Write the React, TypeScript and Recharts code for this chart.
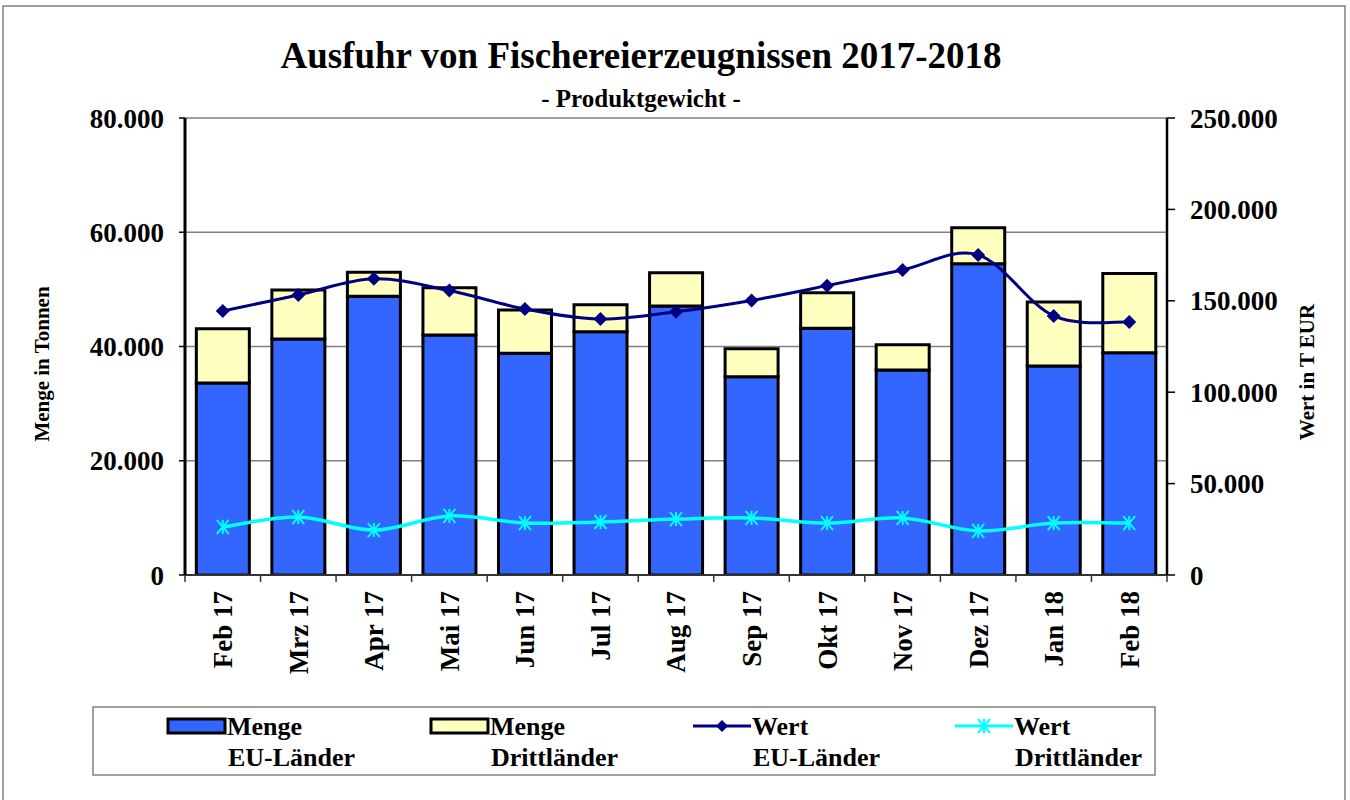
import { ComposedChart, Bar, Line, XAxis, YAxis, CartesianGrid } from "recharts";

const months = ["Feb 17", "Mrz 17", "Apr 17", "Mai 17", "Jun 17", "Jul 17", "Aug 17", "Sep 17", "Okt 17", "Nov 17", "Dez 17", "Jan 18", "Feb 18"];
const mengeEU = [33600, 41300, 48800, 42000, 38800, 42600, 47100, 34700, 43200, 35900, 54500, 36600, 38900];
const mengeDritt = [9500, 8600, 4200, 8300, 7600, 4700, 5800, 4900, 6200, 4400, 6300, 11200, 13900];
const wertEU = [144400, 153200, 162000, 155600, 145500, 140000, 144000, 150200, 158300, 166900, 175100, 141700, 138400];
const wertDritt = [26300, 31700, 24600, 32300, 28400, 29000, 30600, 31200, 28400, 31200, 24100, 28400, 28400];
const leftTicks = [0, 20000, 40000, 60000, 80000];
const rightTicks = [0, 50000, 100000, 150000, 200000, 250000];

const data = months.map((m, i) => ({
  month: m,
  mengeEU: mengeEU[i],
  mengeDritt: mengeDritt[i],
  wertEU: wertEU[i],
  wertDritt: wertDritt[i],
}));

const FONT = "'Liberation Serif', 'Times New Roman', serif";
const BLUE = "#3366FF";
const YELLOW = "#FFFFC0";
const NAVY = "#000080";
const CYAN = "#00FFFF";

const PLOT_LEFT = 185;
const PLOT_RIGHT = 1167;
const BAND = (PLOT_RIGHT - PLOT_LEFT) / months.length;

const fmt = (v: number) => String(v).replace(/\B(?=(\d{3})+(?!\d))/g, ".");

// Excel-like smoothing (Catmull-Rom through the points)
const smoothCurve = (context: any) => {
  let pts: number[][] = [];
  return {
    areaStart() {},
    areaEnd() {},
    lineStart() {
      pts = [];
    },
    lineEnd() {
      const n = pts.length;
      if (!n) return;
      context.moveTo(pts[0][0], pts[0][1]);
      for (let i = 0; i < n - 1; i++) {
        const p0 = pts[Math.max(i - 1, 0)];
        const p1 = pts[i];
        const p2 = pts[i + 1];
        const p3 = pts[Math.min(i + 2, n - 1)];
        context.bezierCurveTo(
          p1[0] + (p2[0] - p0[0]) / 6,
          p1[1] + (p2[1] - p0[1]) / 6,
          p2[0] - (p3[0] - p1[0]) / 6,
          p2[1] - (p3[1] - p1[1]) / 6,
          p2[0],
          p2[1]
        );
      }
    },
    point(x: number, y: number) {
      pts.push([+x, +y]);
    },
  };
};

const Diamond = ({ cx, cy, s = 7 }: any) => (
  <path d={`M${cx},${cy - s}L${cx + s},${cy}L${cx},${cy + s}L${cx - s},${cy}Z`} fill={NAVY} />
);

const Star = ({ cx, cy }: any) => (
  <g stroke={CYAN} strokeWidth={2}>
    <line x1={cx - 6} y1={cy - 7} x2={cx + 6} y2={cy + 7} />
    <line x1={cx - 6} y1={cy + 7} x2={cx + 6} y2={cy - 7} />
    <line x1={cx} y1={cy - 7} x2={cx} y2={cy + 7} />
  </g>
);

const MonthTick = (props: any) => {
  const { x, y, payload, index } = props;
  const half = BAND / 2;
  return (
    <g>
      <line x1={x - half} x2={x - half} y1={y} y2={y + 7} stroke="#333" strokeWidth={1.5} />
      {index === months.length - 1 && (
        <line x1={x + half} x2={x + half} y1={y} y2={y + 7} stroke="#333" strokeWidth={1.5} />
      )}
      <text
        transform={`translate(${x},${y + 16}) rotate(-90)`}
        textAnchor="end"
        dy="0.35em"
        fontFamily={FONT}
        fontWeight="bold"
        fontSize={27}
        fill="#000"
      >
        {payload.value}
      </text>
    </g>
  );
};

const tickStyle = { fontFamily: FONT, fontWeight: "bold", fontSize: 27, fill: "#000" };

const legendText = { fontFamily: FONT, fontWeight: "bold", fontSize: 26, fill: "#000" } as const;

const LegendItem = ({ x, kind, line1, line2 }: any) => (
  <g>
    {kind === "blue" && <rect x={x} y={719} width={57} height={14} fill={BLUE} stroke="#000" strokeWidth={3} />}
    {kind === "yellow" && <rect x={x} y={719} width={57} height={14} fill={YELLOW} stroke="#000" strokeWidth={3} />}
    {kind === "navy" && (
      <g>
        <line x1={x} x2={x + 58} y1={726} y2={726} stroke={NAVY} strokeWidth={3} />
        <Diamond cx={x + 29} cy={726} s={6} />
      </g>
    )}
    {kind === "cyan" && (
      <g>
        <line x1={x} x2={x + 58} y1={726} y2={726} stroke={CYAN} strokeWidth={3} />
        <Star cx={x + 29} cy={726} />
      </g>
    )}
    <text x={x + 59} y={735} {...legendText}>{line1}</text>
    <text x={x + 60} y={766} {...legendText}>{line2}</text>
  </g>
);

export default function App() {
  return (
    <div style={{ position: "fixed", left: 0, top: 0, width: 1350, height: 800, background: "#fff" }}>
      <ComposedChart
        width={1350}
        height={800}
        data={data}
        margin={{ top: 118, right: 0, bottom: 0, left: 0 }}
        barCategoryGap="15%"
      >
        <CartesianGrid yAxisId="left" vertical={false} stroke="#808080" strokeWidth={1.5} />
        <XAxis
          dataKey="month"
          height={225}
          interval={0}
          tickLine={false}
          tickSize={0}
          tickMargin={0}
          axisLine={{ stroke: "#333", strokeWidth: 2 }}
          tick={<MonthTick />}
        />
        <YAxis
          yAxisId="left"
          width={185}
          domain={[0, 80000]}
          ticks={leftTicks}
          tickFormatter={fmt}
          tickSize={6}
          tickMargin={15}
          tickLine={{ stroke: "#000", strokeWidth: 1.5 }}
          axisLine={{ stroke: "#000", strokeWidth: 3 }}
          tick={tickStyle}
          allowDataOverflow
        />
        <YAxis
          yAxisId="right"
          orientation="right"
          width={183}
          domain={[0, 250000]}
          ticks={rightTicks}
          tickFormatter={fmt}
          tickSize={8}
          tickMargin={15}
          tickLine={{ stroke: "#000", strokeWidth: 1.5 }}
          axisLine={{ stroke: "#000", strokeWidth: 2.5 }}
          tick={tickStyle}
        />
        <Bar yAxisId="left" dataKey="mengeEU" stackId="m" fill={BLUE} stroke="#000" strokeWidth={3} isAnimationActive={false} />
        <Bar yAxisId="left" dataKey="mengeDritt" stackId="m" fill={YELLOW} stroke="#000" strokeWidth={3} isAnimationActive={false} />
        <Line
          yAxisId="right"
          dataKey="wertEU"
          type={smoothCurve as any}
          stroke={NAVY}
          strokeWidth={3}
          dot={(p: any) => <Diamond key={`d-${p.index}`} cx={p.cx} cy={p.cy} />}
          activeDot={false}
          isAnimationActive={false}
        />
        <Line
          yAxisId="right"
          dataKey="wertDritt"
          type={smoothCurve as any}
          stroke={CYAN}
          strokeWidth={3.5}
          dot={(p: any) => <Star key={`s-${p.index}`} cx={p.cx} cy={p.cy} />}
          activeDot={false}
          isAnimationActive={false}
        />
      </ComposedChart>
      <svg width={1350} height={800} style={{ position: "absolute", left: 0, top: 0, pointerEvents: "none" }}>
        <rect x={3} y={6} width={1342} height={820} fill="none" stroke="#808080" strokeWidth={1.5} />
        <text x={641} y={68} textAnchor="middle" fontFamily={FONT} fontWeight="bold" fontSize={37}>
          Ausfuhr von Fischereierzeugnissen 2017-2018
        </text>
        <text x={641} y={107} textAnchor="middle" fontFamily={FONT} fontWeight="bold" fontSize={25}>
          - Produktgewicht -
        </text>
        <text transform="translate(49,364) rotate(-90)" textAnchor="middle" fontFamily={FONT} fontWeight="bold" fontSize={21}>
          Menge in Tonnen
        </text>
        <text transform="translate(1314,372) rotate(-90)" textAnchor="middle" fontFamily={FONT} fontWeight="bold" fontSize={21}>
          Wert in T EUR
        </text>
        <rect x={93} y={707} width={1062} height={68} fill="none" stroke="#808080" strokeWidth={1.5} />
        <LegendItem x={168} kind="blue" line1="Menge" line2="EU-Länder" />
        <LegendItem x={431} kind="yellow" line1="Menge" line2="Drittländer" />
        <LegendItem x={693} kind="navy" line1="Wert" line2="EU-Länder" />
        <LegendItem x={955} kind="cyan" line1="Wert" line2="Drittländer" />
      </svg>
    </div>
  );
}
